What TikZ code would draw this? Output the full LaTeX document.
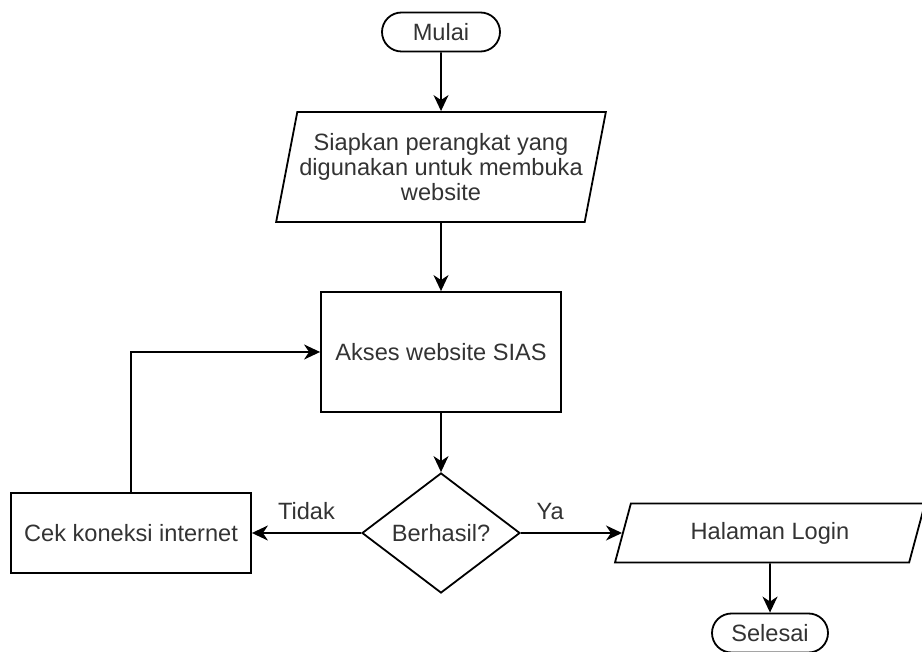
\documentclass[tikz,border=0pt]{standalone}
\usepackage{fontspec}
\setmainfont{Liberation Sans}
\usetikzlibrary{shapes.geometric, shapes.misc, arrows.meta}

\tikzset{
  base/.style={draw, line width=0.9pt, font=\fontsize{11.8}{12.3}\selectfont, text=black!80, inner sep=1pt, align=center},
  term/.style={base, rounded rectangle, minimum width=61pt, minimum height=19.5pt},
  proc/.style={base, rectangle, minimum width=120pt},
  io/.style={base, trapezium, trapezium stretches body},
  dec/.style={base, diamond, minimum width=79pt, minimum height=60pt, shape aspect=1.32},
  arr/.style={line width=0.9pt, -{Stealth[length=8pt, width=7.5pt, inset=2.5pt]}},
  lbl/.style={font=\fontsize{11.8}{12.3}\selectfont, text=black!80}
}

\begin{document}
\begin{tikzpicture}[x=0.5pt, y=-0.5pt]
  \useasboundingbox (0,0) rectangle (922,652);

  \node[term] (mulai) at (441,32) {Mulai};
  \node[io, trapezium left angle=73.3, trapezium right angle=106.7, minimum width=162pt, minimum height=55pt] (siap) at (441,167) {Siapkan perangkat yang\\digunakan untuk membuka\\website};
  \node[proc, minimum height=60pt] (akses) at (441,352) {Akses website SIAS};
  \node[dec] (berhasil) at (441,533) {Berhasil?};
  \node[proc, minimum height=40pt] (cek) at (131,533) {Cek koneksi internet};
  \node[io, trapezium left angle=58.6, trapezium right angle=121.4, minimum width=155pt, minimum height=29.5pt] (login) at (770,533) {Halaman Login};
  \node[term, minimum width=60pt] (selesai) at (770,633) {Selesai};

  % alur utama
  \draw[arr] (mulai) -- (siap);
  \draw[arr] (siap) -- (akses);
  \draw[arr] (akses) -- (berhasil);
  \draw[arr] (berhasil) -- node[lbl, yshift=11pt] {Tidak} (cek);
  \draw[arr] (berhasil) -- node[lbl, pos=0.29, yshift=11pt] {Ya} (login);
  \draw[arr] (cek) |- (akses);
  \draw[arr] (login) -- (selesai);
\end{tikzpicture}
\end{document}
